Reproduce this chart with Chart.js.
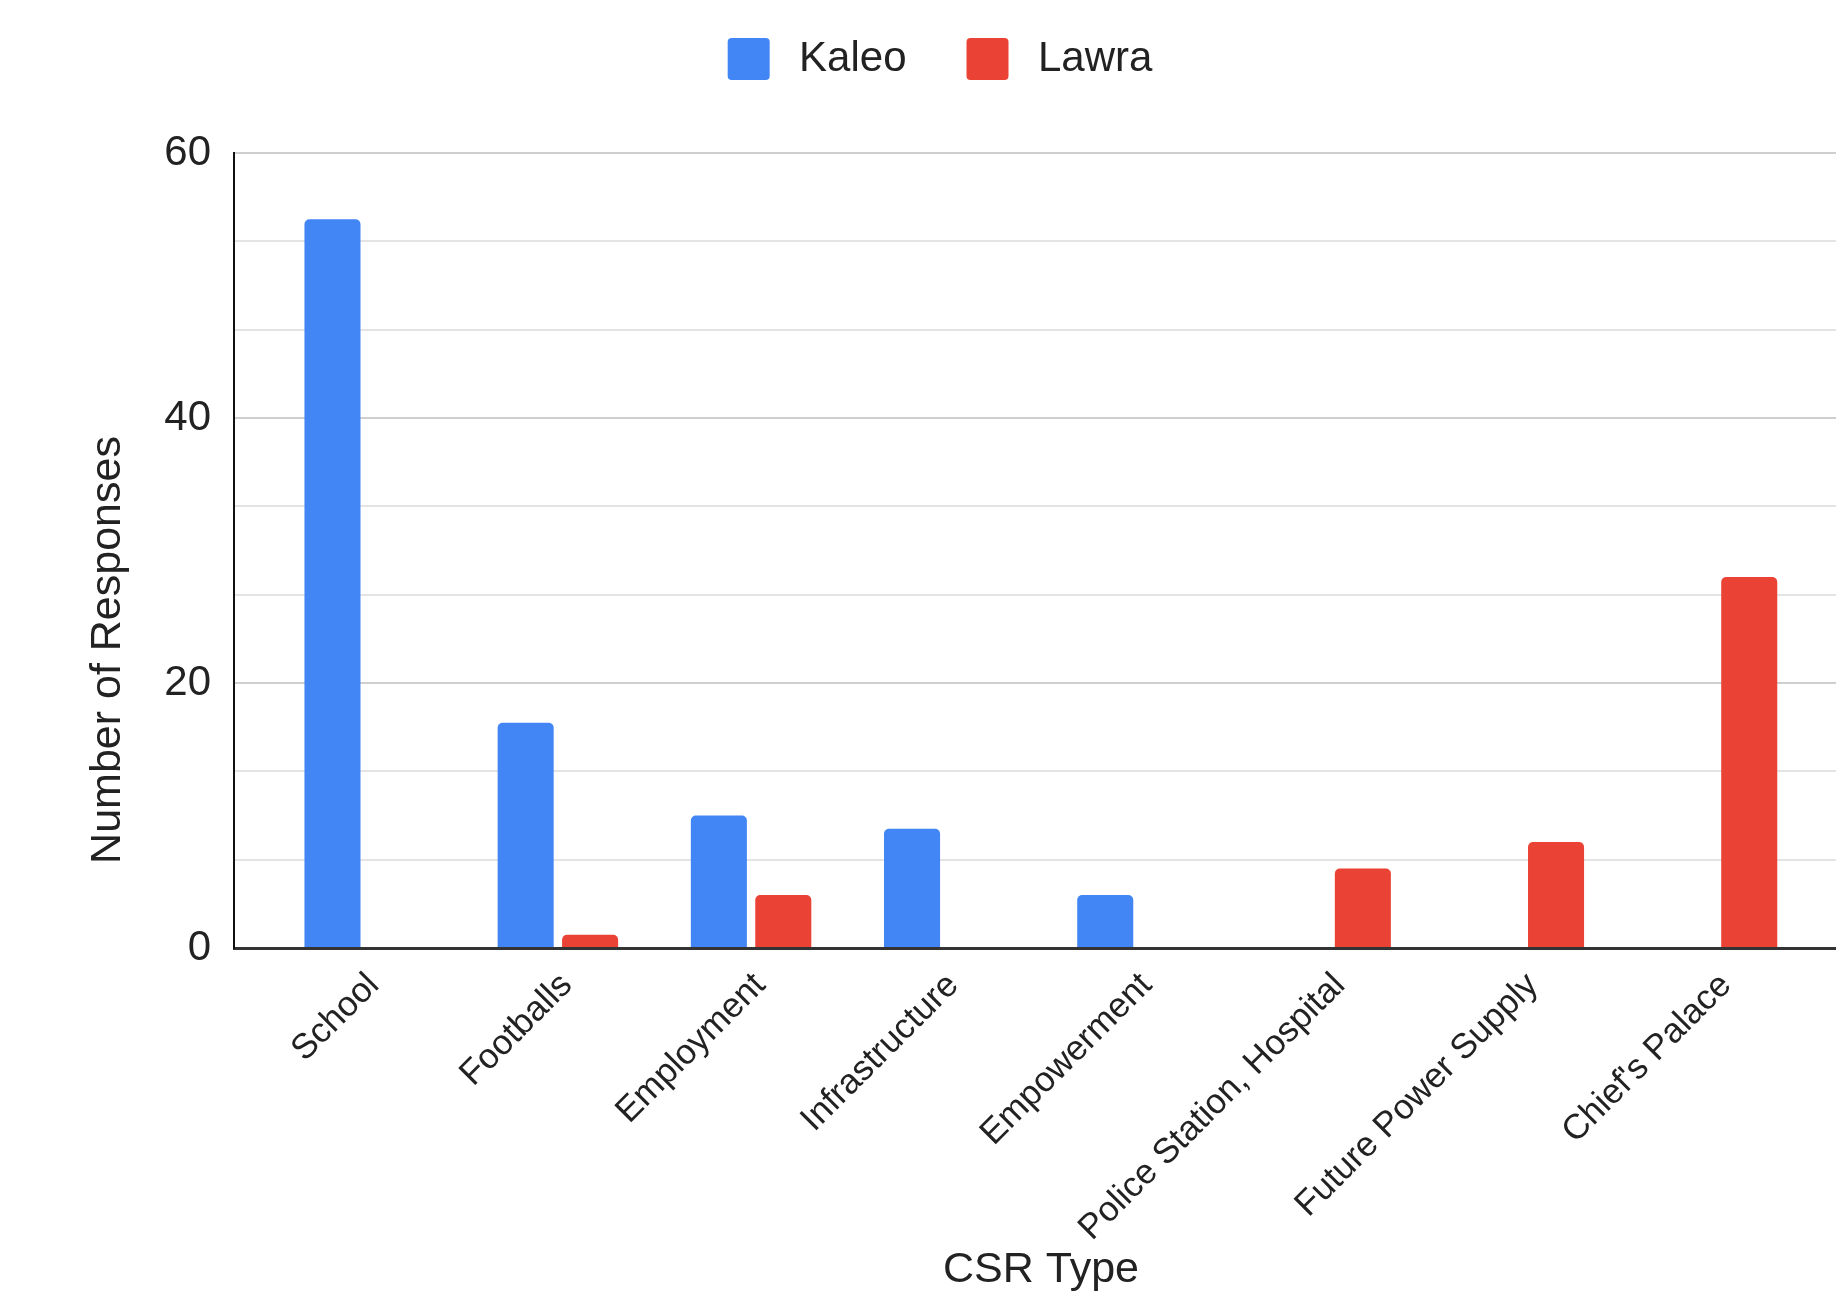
<!DOCTYPE html>
<html>
<head>
<meta charset="utf-8">
<script src="https://cdn.jsdelivr.net/npm/chart.js@4.4.1/dist/chart.umd.min.js"></script>
<style>
  html, body { margin: 0; padding: 0; background: #ffffff; overflow: hidden; }
  #wrap { width: 1916px; height: 1299px; }
</style>
</head>
<body>
<div id="wrap"><canvas id="chart" width="1916" height="1299"></canvas></div>
<script>
// CSR types mentioned by respondents, per district
const categories = ['School', 'Footballs', 'Employment', 'Infrastructure', 'Empowerment',
                    'Police Station, Hospital', 'Future Power Supply', "Chief's Palace"];
const kaleoValues = [55, 17, 10, 9, 4, null, null, null];
const lawraValues = [null, 1, 4, null, null, 6, 8, 28];
const seriesNames = ['Kaleo', 'Lawra'];
const yTickLabels = [0, 20, 40, 60];
const xTitle = 'CSR Type';
const yTitle = 'Number of Responses';

const FONT = "'Liberation Sans', Arial, Helvetica, sans-serif";
const TEXT = '#222222';

// index-based points so the category axis can carry outer padding
const toPoints = vals => vals.map((v, i) => ({ x: i, y: v }));

const isLabelled = v => yTickLabels.some(t => Math.abs(t - v) < 1e-6);

// taller legend band above the plot, nudged slightly right
const legendBand = {
  id: 'legendBand',
  beforeLayout(chart) {
    const lg = chart.legend;
    if (lg && !lg.__banded) {
      const fit = lg.fit;
      lg.fit = function () { fit.call(this); this.height = 175; };
      lg.__banded = true;
    }
  },
  afterLayout(chart) {
    const lg = chart.legend;
    if (lg) { lg.left += 16; lg.right += 16; }
  }
};

// vertical axis title
const yAxisTitle = {
  id: 'yAxisTitle',
  afterDraw(chart) {
    const ctx = chart.ctx;
    ctx.save();
    ctx.translate(108, 650);
    ctx.rotate(-Math.PI / 2);
    ctx.font = '43px ' + FONT;
    ctx.fillStyle = TEXT;
    ctx.textAlign = 'center';
    ctx.textBaseline = 'middle';
    ctx.fillText(yTitle, 0, 0);
    ctx.restore();
  }
};

const barRadius = { topLeft: 5, topRight: 5, bottomLeft: 0, bottomRight: 0 };

new Chart(document.getElementById('chart'), {
  type: 'bar',
  data: {
    datasets: [
      { label: seriesNames[0], data: toPoints(kaleoValues), backgroundColor: '#4285F4',
        borderRadius: barRadius, borderSkipped: false,
        categoryPercentage: 0.667, barPercentage: 0.87 },
      { label: seriesNames[1], data: toPoints(lawraValues), backgroundColor: '#EA4335',
        borderRadius: barRadius, borderSkipped: false,
        categoryPercentage: 0.667, barPercentage: 0.87 }
    ]
  },
  options: {
    responsive: false,
    animation: false,
    devicePixelRatio: 1,
    layout: { padding: { top: -22, left: 0, right: 68, bottom: 0 } },
    plugins: {
      legend: {
        position: 'top',
        labels: {
          font: { family: FONT, size: 42 },
          color: TEXT,
          boxWidth: 42,
          boxHeight: 42,
          useBorderRadius: true,
          borderRadius: 4,
          padding: 60,
          generateLabels: chart => Chart.defaults.plugins.legend.labels.generateLabels(chart)
            .map(item => Object.assign(item, { text: '\u2009' + item.text }))
        }
      },
      tooltip: { enabled: false }
    },
    scales: {
      x: {
        type: 'linear',
        offset: false,
        min: -0.6765,
        max: 7.678,
        grid: { display: false },
        border: { display: true, color: '#333333', width: 3 },
        ticks: {
          stepSize: 1,
          includeBounds: false,
          autoSkip: false,
          minRotation: 45,
          maxRotation: 45,
          padding: 9,
          labelOffset: 9,
          font: { family: FONT, size: 35 },
          color: TEXT,
          callback: v => (Number.isInteger(v) && categories[v] !== undefined) ? categories[v] : ''
        },
        title: {
          display: true,
          text: xTitle,
          font: { family: FONT, size: 43 },
          color: TEXT,
          padding: { top: 0, bottom: 3 }
        },
        afterFit: scale => {
          scale.height = 351;
          scale.paddingLeft = 0;
          scale.paddingRight = 0;
        }
      },
      y: {
        min: 0,
        max: 60,
        grid: {
          drawTicks: false,
          lineWidth: 2,
          color: c => (c.tick && Math.abs(c.tick.value) < 1e-6) ? 'rgba(0,0,0,0)'
                     : (c.tick && isLabelled(c.tick.value) ? '#cfcfcf' : '#e4e4e4')
        },
        border: { display: true, color: '#111111', width: 2 },
        ticks: {
          count: 10,
          padding: 23,
          font: { family: FONT, size: 42 },
          color: TEXT,
          callback: v => isLabelled(v) ? String(Math.round(v)) : ''
        },
        afterFit: scale => { scale.width = 234; }
      }
    }
  },
  plugins: [legendBand, yAxisTitle]
});
</script>
</body>
</html>
